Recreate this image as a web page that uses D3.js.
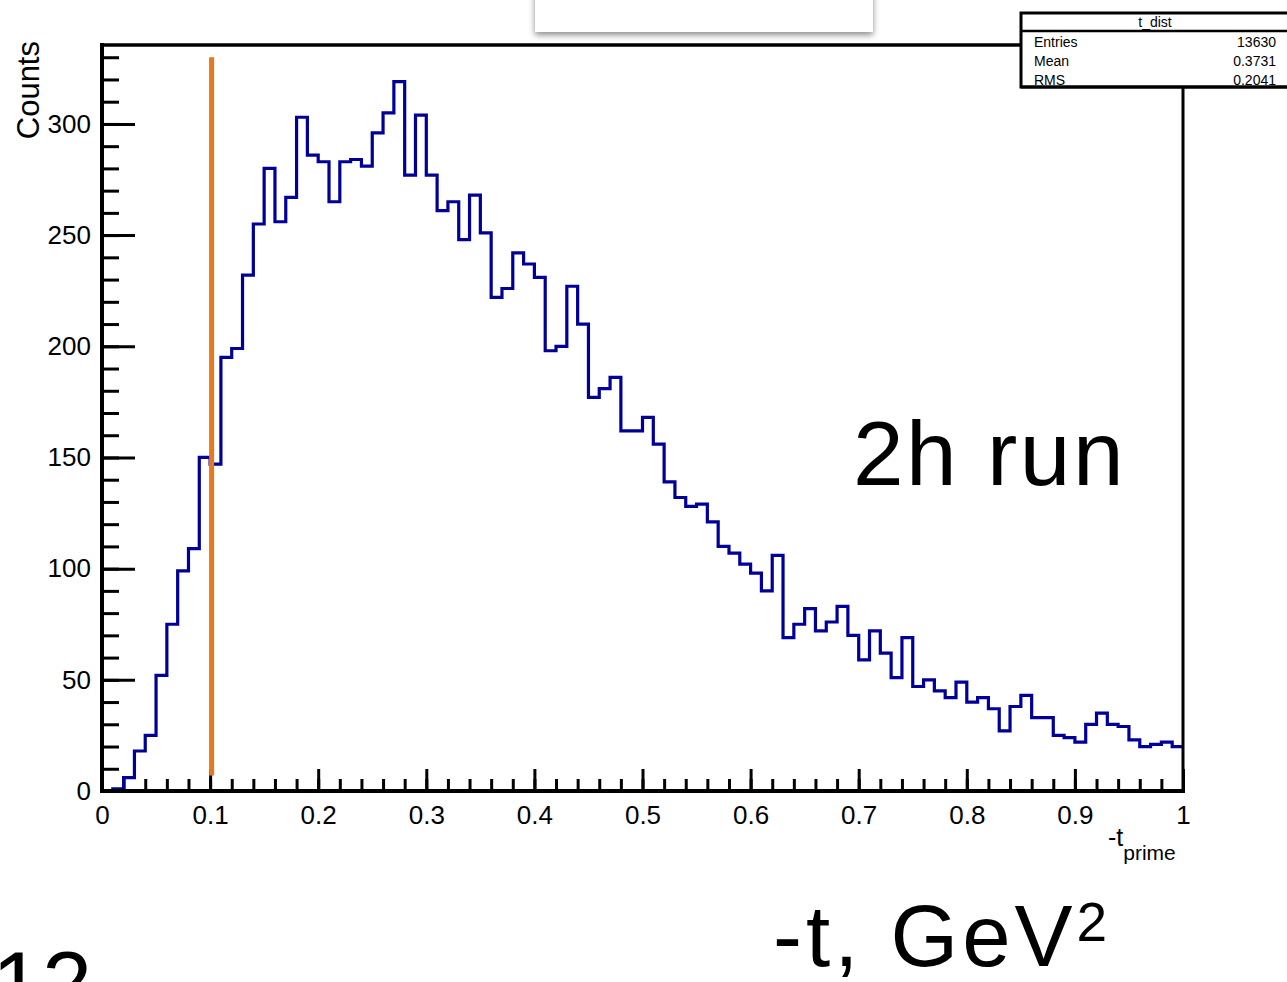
<!DOCTYPE html>
<html>
<head>
<meta charset="utf-8">
<script src="https://cdn.jsdelivr.net/npm/d3@7"></script>
<style>
  html, body { margin: 0; padding: 0; background: #fff; }
  svg { display: block; }
  text { font-family: "Liberation Sans", Arial, Helvetica, sans-serif; }
</style>
</head>
<body>
<svg id="chart" width="1287" height="982"></svg>
<script>
// ---- data ----
const binLow = 0, binHigh = 1, nBins = 100;
const counts = [
  0, 1, 6, 18, 25, 52, 75, 99, 109, 150,
  147, 195, 199, 232, 255, 280, 256, 267, 303, 286,
  283, 265, 283, 284, 281, 296, 305, 319, 277, 304,
  277, 261, 265, 248, 268, 251, 222, 226, 242, 237,
  231, 198, 200, 227, 210, 177, 181, 186, 162, 162,
  168, 156, 139, 132, 128, 129, 121, 110, 107, 102,
  98, 90, 106, 69, 75, 82, 72, 76, 83, 70,
  59, 72, 62, 51, 69, 47, 50, 45, 42, 49,
  40, 42, 37, 27, 38, 43, 33, 33, 25, 24,
  22, 30, 35, 30, 29, 23, 20, 21, 22, 20
];
const xTicks = [0, 0.1, 0.2, 0.3, 0.4, 0.5, 0.6, 0.7, 0.8, 0.9, 1];
const yTicks = [0, 50, 100, 150, 200, 250, 300];
const cutValue = 0.1;
const statsTitle = "t_dist";
const statsLabels = ["Entries", "Mean", "RMS"];
const statsValues = ["13630", "0.3731", "0.2041"];
const yTitle = "Counts";

// ---- layout ----
const L = 102, R = 1183, T = 45, B = 791;
const svg = d3.select("#chart");
const x = d3.scaleLinear().domain([binLow, binHigh]).range([L, R]);
const y = d3.scaleLinear().domain([0, 335.5]).range([B, T]);

// slide element: white box with shadow at top
const defs = svg.append("defs");
const f = defs.append("filter").attr("id", "sh").attr("x", "-10%").attr("y", "-50%").attr("width", "120%").attr("height", "250%");
f.append("feDropShadow").attr("dx", 0).attr("dy", 3).attr("stdDeviation", 3).attr("flood-color", "#000").attr("flood-opacity", 0.45);
svg.append("rect").attr("x", 535).attr("y", -10).attr("width", 338).attr("height", 42)
  .attr("fill", "#fff").attr("filter", "url(#sh)");

// minor ticks
const yMinor = d3.range(0, 331, 10);
const xMinor = d3.range(0, 1.0001, 0.02);
svg.append("g").attr("transform", `translate(${L},0)`)
  .call(d3.axisLeft(y).tickValues(yMinor).tickSize(-17).tickFormat(""))
  .call(g => g.select(".domain").remove())
  .call(g => g.selectAll("line").attr("stroke", "#000").attr("stroke-width", 3));
svg.append("g").attr("transform", `translate(0,${B})`)
  .call(d3.axisBottom(x).tickValues(xMinor).tickSize(-12).tickFormat(""))
  .call(g => g.select(".domain").remove())
  .call(g => g.selectAll("line").attr("stroke", "#000").attr("stroke-width", 3));

// major ticks + labels
svg.append("g").attr("transform", `translate(${L},0)`)
  .call(d3.axisLeft(y).tickValues(yTicks).tickSize(-33).tickPadding(11).tickFormat(d3.format("d")))
  .call(g => g.select(".domain").remove())
  .call(g => g.selectAll("line").attr("stroke", "#000").attr("stroke-width", 3))
  .call(g => g.selectAll("text").attr("font-size", 26).attr("fill", "#000")
    .attr("font-family", "'Liberation Sans', Arial, sans-serif"));
svg.append("g").attr("transform", `translate(0,${B})`)
  .call(d3.axisBottom(x).tickValues(xTicks).tickSize(-22).tickPadding(15).tickFormat(d => String(+d.toFixed(1))))
  .call(g => g.select(".domain").remove())
  .call(g => g.selectAll("line").attr("stroke", "#000").attr("stroke-width", 3))
  .call(g => g.selectAll("text").attr("font-size", 26).attr("fill", "#000")
    .attr("font-family", "'Liberation Sans', Arial, sans-serif"));

// histogram
const w = (binHigh - binLow) / nBins;
const pts = counts.map((c, i) => [binLow + i * w, c]);
pts.push([binHigh, counts[counts.length - 1]]);
svg.append("path")
  .attr("d", d3.line().x(d => x(d[0])).y(d => y(d[1])).curve(d3.curveStepAfter)(pts))
  .attr("fill", "none").attr("stroke", "#000099").attr("stroke-width", 3.2);

// frame
const frame = svg.append("g").attr("stroke", "#000").attr("fill", "none");
frame.append("line").attr("x1", L).attr("x2", L).attr("y1", T - 2).attr("y2", B + 2).attr("stroke-width", 4);
frame.append("line").attr("x1", L - 2).attr("x2", R + 2).attr("y1", B).attr("y2", B).attr("stroke-width", 4);
frame.append("line").attr("x1", L - 2).attr("x2", 1021).attr("y1", T).attr("y2", T).attr("stroke-width", 3.5);
frame.append("line").attr("x1", R).attr("x2", R).attr("y1", 86).attr("y2", B + 2).attr("stroke-width", 3);

// cut line
svg.append("line").attr("x1", x(cutValue) + 1.5).attr("x2", x(cutValue) + 1.5)
  .attr("y1", y(330)).attr("y2", y(7))
  .attr("stroke", "#E8781E").attr("stroke-width", 5);

// axis titles
svg.append("text").attr("transform", "translate(39,41) rotate(-90)")
  .attr("text-anchor", "end").attr("font-size", 31).text(yTitle);
const xt = svg.append("text").attr("x", 1108).attr("y", 846).attr("font-size", 25);
xt.append("tspan").text("-t");
xt.append("tspan").attr("dy", 14).attr("font-size", 21).text("prime");

// stats box
const sb = svg.append("g");
sb.append("rect").attr("x", 1021).attr("y", 13).attr("width", 290).attr("height", 74)
  .attr("fill", "#fff").attr("stroke", "#000").attr("stroke-width", 3);
sb.append("line").attr("x1", 1021).attr("x2", 1300).attr("y1", 31).attr("y2", 31)
  .attr("stroke", "#000").attr("stroke-width", 2.5);
sb.append("text").attr("x", 1155).attr("y", 27).attr("text-anchor", "middle").attr("font-size", 14).text(statsTitle);
statsLabels.forEach((lab, i) => {
  sb.append("text").attr("x", 1034).attr("y", 47 + i * 19).attr("font-size", 14).text(lab);
  sb.append("text").attr("x", 1276).attr("y", 47 + i * 19).attr("text-anchor", "end").attr("font-size", 14).text(statsValues[i]);
});
sb.append("line").attr("x1", 1021).attr("x2", 1300).attr("y1", 87).attr("y2", 87)
  .attr("stroke", "#000").attr("stroke-width", 3);

// slide annotations
svg.append("text").attr("x", 853).attr("y", 485).attr("font-size", 91).attr("letter-spacing", 2.5)
  .attr("fill", "#000").text("2h run");
const gt = svg.append("text").attr("x", 773).attr("y", 966).attr("font-size", 87).attr("fill", "#000");
gt.append("tspan").attr("letter-spacing", 4).text("-t, GeV");
gt.append("tspan").attr("dy", -25).attr("font-size", 55).text("2");
svg.append("text").attr("x", -8).attr("y", 1015).attr("font-size", 90).attr("fill", "#000").text("12");
</script>
</body>
</html>
